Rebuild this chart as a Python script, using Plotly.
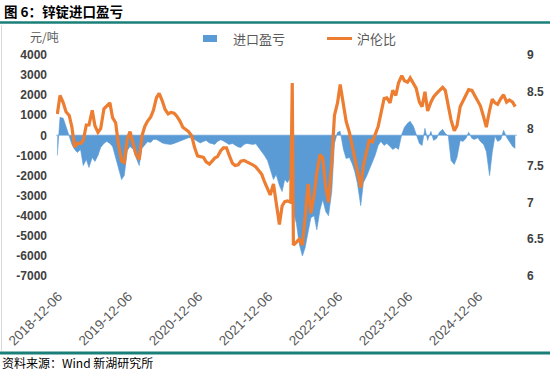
import pandas as pd
import plotly.graph_objects as go

# ---------------- data (semi-monthly samples) ----------------
start_date = "2018-12-01"

import_profit = [
    -1000, 900, 850, 400, -50, -450, -700, -850, -700, -1500,
    -1200, -1600, -1100, -1300, -1000, -600, -400, -300, -400, -550,
    -1100, -1700, -2200, -2000, -750, -550, -700, -1100, -1500, -650,
    -450, -320, -350, -200, -200, -300, -380, -420, -450, -450,
    -400, -350, -300, -250, -200, -120, -120, -200, -300, -380,
    -300, -250, -380, -420, -450, -300, -220, -280, -350, -450,
    -400, -500, -580, -600, -450, -400, -420, -450, -420, -600,
    -780, -1000, -1250, -1700, -2200, -1950, -2500, -2800, -2200, -2350,
    -2100, -3800, -4400, -5400, -6000, -5600, -4800, -4100, -4000, -4700,
    -3700, -3200, -3800, -4000, -2800, -400, 150, 200, -700, -1150,
    -1100, -1400, -1800, -2400, -3500, -2350, -2050, -1750, -1300, -1000,
    -500, -300, -500, -400, -550, -700, -600, -700, 50, 400,
    600, 700, 450, 100, -400, -500, 350, -250, 200, -250,
    -150, 150, 300, 100, -50, -1250, -1450, -1100, -250, -300,
    -150, 150, -150, -200, -120, -300, -450, -800, -2000, -850,
    -50, -300, -200, 250, -100, -300, -550, -650,
]

shfe_lme_ratio = [
    8.20, 8.45, 8.35, 8.23, 8.18, 8.02, 7.75, 7.80, 7.80, 7.84,
    8.05, 8.05, 8.25, 8.04, 7.95, 8.00, 8.27, 8.30, 8.35, 8.15,
    8.08, 7.80, 7.56, 7.54, 7.86, 7.96, 7.80, 7.65, 7.58, 7.90,
    8.03, 8.10, 8.16, 8.25, 8.42, 8.48, 8.37, 8.26, 8.20, 8.22,
    8.21, 8.17, 8.10, 8.02, 7.99, 7.96, 7.90, 7.75, 7.63, 7.62,
    7.61, 7.55, 7.52, 7.56, 7.60, 7.62, 7.70, 7.74, 7.74, 7.64,
    7.53, 7.50, 7.51, 7.56, 7.57, 7.55, 7.53, 7.51, 7.48, 7.44,
    7.38, 7.28, 7.18, 7.10, 7.25, 7.00, 6.70, 6.95, 7.01, 7.02,
    7.00, 6.42, 6.46, 6.50, 6.42, 6.85, 7.25, 6.85, 7.10, 7.40,
    7.65, 7.60, 7.20, 7.00, 7.55, 8.18, 8.35, 8.60, 8.33, 8.10,
    7.95, 7.75, 7.60, 7.42, 7.20, 7.50, 7.70, 7.84, 7.82, 7.92,
    8.03, 8.20, 8.41, 8.42, 8.35, 8.52, 8.45, 8.62, 8.72, 8.65,
    8.63, 8.69, 8.62, 8.55, 8.36, 8.30, 8.50, 8.24, 8.36, 8.43,
    8.48, 8.52, 8.56, 8.52, 8.30, 8.12, 7.97, 8.04, 8.30, 8.38,
    8.45, 8.53, 8.52, 8.45, 8.38, 8.31, 8.16, 8.02, 8.25, 8.40,
    8.35, 8.33, 8.41, 8.46, 8.36, 8.39, 8.36, 8.30,
]

# one-day spike in the ratio series
ratio_spike_date = "2022-04-09"
ratio_spike_value = 8.62

tick_dates = ["2018-12-06", "2019-12-06", "2020-12-06", "2021-12-06",
              "2022-12-06", "2023-12-06", "2024-12-06"]
left_ticks = [4000, 3000, 2000, 1000, 0, -1000, -2000, -3000, -4000, -5000, -6000, -7000]
right_ticks = [9, 8.5, 8, 7.5, 7, 6.5, 6]

series_names = ["进口盈亏", "沪伦比"]
title_text = "图 6：锌锭进口盈亏"
unit_text = "元/吨"
source_text = "资料来源：Wind 新湖研究所"

# ---------------- build ----------------
dates = pd.date_range(start_date, periods=len(import_profit), freq="SMS")
ratio_df = pd.DataFrame({"d": list(dates) + [pd.Timestamp(ratio_spike_date)],
                         "v": shfe_lme_ratio + [ratio_spike_value]}).sort_values("d")

BLUE = "#5B9BD5"
ORANGE = "#ED7D31"
TEAL = "#1A7F78"
NUM_FONT = "Liberation Sans"
CJK_FONT = "Noto Sans CJK SC"

fig = go.Figure()
fig.add_trace(go.Scatter(
    x=dates, y=import_profit, name=series_names[0], mode="lines",
    line=dict(width=0.6, color=BLUE), fill="tozeroy", fillcolor=BLUE,
    yaxis="y", showlegend=False))
fig.add_trace(go.Scatter(
    x=ratio_df["d"], y=ratio_df["v"], name=series_names[1], mode="lines",
    line=dict(width=3.2, color=ORANGE), yaxis="y2", showlegend=False))

W, H = 550, 375
L, R, T, B = 56, 33, 55, 99
pw, ph = W - L - R, H - T - B


def px(xp):
    return (xp - L) / pw


def py(yp):
    return (H - B - yp) / ph


shapes = [
    # zero line (light blue)
    dict(type="line", xref="paper", yref="y", x0=0, x1=1, y0=0, y1=0,
         line=dict(color="#BDD7EE", width=1.5), layer="below"),
    # teal rules
    dict(type="line", xref="paper", yref="paper", x0=px(0), x1=px(W), y0=py(22.5), y1=py(22.5),
         line=dict(color=TEAL, width=2.5)),
    dict(type="line", xref="paper", yref="paper", x0=px(0), x1=px(W), y0=py(353), y1=py(353),
         line=dict(color=TEAL, width=3)),
    # left border
    dict(type="line", xref="paper", yref="paper", x0=px(1.5), x1=px(1.5), y0=py(25), y1=py(351),
         line=dict(color="#D9D9D9", width=1)),
    # legend symbols
    dict(type="rect", xref="paper", yref="paper", x0=px(203), x1=px(217), y0=py(42), y1=py(35),
         fillcolor=BLUE, line=dict(width=0)),
    dict(type="line", xref="paper", yref="paper", x0=px(327), x1=px(352), y0=py(38.5), y1=py(38.5),
         line=dict(color=ORANGE, width=3)),
]

annotations = [
    dict(text="<b>" + title_text + "</b>", xref="paper", yref="paper", x=px(2), y=py(11),
         xanchor="left", yanchor="middle", showarrow=False,
         font=dict(family=CJK_FONT, size=13.5, color="#000000")),
    dict(text=unit_text, xref="paper", yref="paper", x=px(28), y=py(36),
         xanchor="left", yanchor="middle", showarrow=False,
         font=dict(family=CJK_FONT, size=12, color="#595959")),
    dict(text=series_names[0], xref="paper", yref="paper", x=px(231), y=py(38.5),
         xanchor="left", yanchor="middle", showarrow=False,
         font=dict(family=CJK_FONT, size=13, color="#595959")),
    dict(text=series_names[1], xref="paper", yref="paper", x=px(355), y=py(38.5),
         xanchor="left", yanchor="middle", showarrow=False,
         font=dict(family=CJK_FONT, size=13, color="#595959")),
    dict(text=source_text, xref="paper", yref="paper", x=px(0), y=py(362),
         xanchor="left", yanchor="middle", showarrow=False,
         font=dict(family=CJK_FONT, size=12, color="#000000")),
]

fig.update_layout(
    width=W, height=H,
    margin=dict(l=L, r=R, t=T, b=B, pad=0, autoexpand=False),
    paper_bgcolor="white", plot_bgcolor="white",
    showlegend=False,
    xaxis=dict(
        type="date", range=["2018-11-24", "2025-06-24"], automargin=False,
        tickvals=tick_dates, ticktext=tick_dates, tickangle=-45,
        showgrid=False, zeroline=False, showline=False, ticks="",
        ticklabelstandoff=9,
        tickfont=dict(family=NUM_FONT, size=13.5, color="#595959"),
    ),
    yaxis=dict(
        range=[-7000, 4000], tickvals=left_ticks, ticktext=[str(v) for v in left_ticks],
        automargin=False,
        showgrid=False, zeroline=False, showline=False, ticks="",
        ticklabelstandoff=8,
        tickfont=dict(family=NUM_FONT, size=12, color="#404040", weight="bold"),
    ),
    yaxis2=dict(
        range=[6, 9], overlaying="y", side="right", automargin=False,
        tickvals=right_ticks, ticktext=[("%g" % v) for v in right_ticks],
        showgrid=False, zeroline=False, showline=False, ticks="",
        ticklabelstandoff=9,
        tickfont=dict(family=NUM_FONT, size=12, color="#404040", weight="bold"),
    ),
    shapes=shapes,
    annotations=annotations,
)

fig.write_html("out.html", config={"displayModeBar": False},
               post_script="document.body.style.margin='0';")
